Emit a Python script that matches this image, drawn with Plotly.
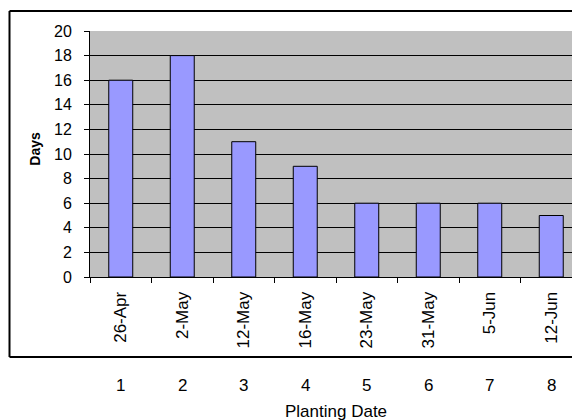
import plotly.graph_objects as go

# Days to emergence for each planting date
planting_dates = ["26-Apr", "2-May", "12-May", "16-May", "23-May", "31-May", "5-Jun", "12-Jun"]
days = [16, 18, 11, 9, 6, 6, 6, 5]
plot_numbers = ["1", "2", "3", "4", "5", "6", "7", "8"]
y_ticks = list(range(0, 21, 2))

FONT = "Liberation Sans, Arial, sans-serif"

fig = go.Figure()
fig.add_trace(go.Bar(
    x=planting_dates,
    y=days,
    width=0.39,
    marker=dict(color="#9999FF", line=dict(color="black", width=1)),
    hoverinfo="x+y",
))

# sequence numbers under each planting date, outside the chart frame
annotations = []
for label, num in zip(planting_dates, plot_numbers):
    annotations.append(dict(
        x=label, xref="x", y=-0.44, yref="paper",
        text=num, showarrow=False, xanchor="center", yanchor="middle",
        font=dict(family=FONT, size=17, color="black"),
    ))
annotations.append(dict(
    x=0.51, xref="paper", y=-0.545, yref="paper",
    text="Planting Date", showarrow=False, xanchor="center", yanchor="middle",
    font=dict(family=FONT, size=17, color="black"),
))
annotations.append(dict(
    x=-0.114, xref="paper", y=0.522, yref="paper",
    text="<b>Days</b>", textangle=-90, showarrow=False,
    xanchor="center", yanchor="middle",
    font=dict(family=FONT, size=14, color="black"),
))

# chart frame: open on the right, where the chart runs past the page edge
frame_left, frame_right = -0.167, 1.2
frame_bottom, frame_top = -0.325, 1.0813
frame_line = dict(color="black", width=2)
frame = [
    dict(type="line", xref="paper", yref="paper",
         x0=frame_left, x1=frame_right, y0=frame_top, y1=frame_top, line=frame_line),
    dict(type="line", xref="paper", yref="paper",
         x0=frame_left, x1=frame_right, y0=frame_bottom, y1=frame_bottom, line=frame_line),
    dict(type="line", xref="paper", yref="paper",
         x0=frame_left, x1=frame_left, y0=frame_bottom, y1=frame_top, line=frame_line),
]

fig.update_layout(
    width=572,
    height=420,
    margin=dict(l=90, r=0, t=31, b=143),
    paper_bgcolor="white",
    plot_bgcolor="#C0C0C0",
    showlegend=False,
    bargap=0.61,
    annotations=annotations,
    shapes=frame,
    xaxis=dict(
        type="category",
        range=[-0.5, -0.5 + 482 / 61.5],
        tickson="boundaries",
        ticks="outside", ticklen=5, tickcolor="black", tickwidth=1,
        tickangle=-90,
        ticklabelstandoff=7,
        tickfont=dict(family=FONT, size=17, color="black"),
        showgrid=False,
        showline=True, linecolor="black", linewidth=1,
        zeroline=False,
        fixedrange=True,
    ),
    yaxis=dict(
        range=[0, 20],
        tickvals=y_ticks,
        ticks="outside", ticklen=5, tickcolor="black", tickwidth=1,
        ticklabelstandoff=9,
        tickfont=dict(family=FONT, size=16, color="black"),
        showgrid=True, gridcolor="black", gridwidth=1,
        showline=True, linecolor="black", linewidth=1,
        zeroline=False,
        fixedrange=True,
    ),
)

fig.write_html("out.html")
